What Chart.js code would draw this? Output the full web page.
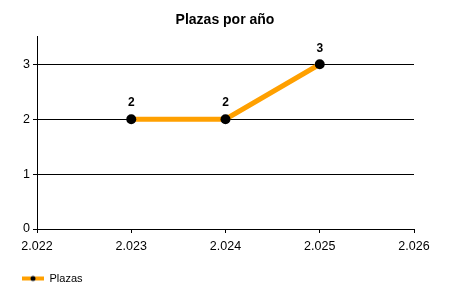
<!DOCTYPE html>
<html lang="es">
<head>
  <meta charset="UTF-8">
  <title>Plazas por año</title>
  <script src="https://cdn.jsdelivr.net/npm/chart.js"></script>
  <style>
    html, body { margin: 0; padding: 0; background: #fff; }
    #wrap { width: 450px; height: 300px; }
  </style>
</head>
<body>
<div id="wrap"><canvas id="plazasChart" width="450" height="300"></canvas></div>
<script>
  // datos
  const years = [2023, 2024, 2025];
  const plazas = [2, 2, 3];
  const xTicks = [2022, 2023, 2024, 2025, 2026];
  const yTicks = [0, 1, 2, 3];

  const fontFamily = '"Liberation Sans", Arial, sans-serif';
  const orange = '#FFA000';

  // icono de la leyenda: linea naranja con punto negro
  const legendIcon = document.createElement('canvas');
  legendIcon.width = 22;
  legendIcon.height = 8;
  (function () {
    const c = legendIcon.getContext('2d');
    c.fillStyle = orange;
    c.fillRect(0, 2, 22, 4);
    c.fillStyle = '#000';
    c.beginPath();
    c.arc(11, 4, 2.5, 0, Math.PI * 2);
    c.fill();
  })();

  // etiquetas encima de cada punto
  const pointLabels = {
    id: 'pointLabels',
    afterDatasetsDraw(chart) {
      const ctx = chart.ctx;
      const meta = chart.getDatasetMeta(0);
      ctx.save();
      ctx.font = 'bold 12px ' + fontFamily;
      ctx.fillStyle = '#000';
      ctx.textAlign = 'center';
      ctx.textBaseline = 'bottom';
      meta.data.forEach((pt, i) => {
        ctx.fillText(String(plazas[i]), pt.x, pt.y - 10);
      });
      ctx.restore();
    }
  };

  const fmt = v => (v / 1000).toFixed(3);

  new Chart(document.getElementById('plazasChart'), {
    type: 'line',
    data: {
      datasets: [{
        label: 'Plazas',
        data: years.map((y, i) => ({ x: y, y: plazas[i] })),
        borderColor: orange,
        borderWidth: 5,
        pointRadius: 5,
        pointBackgroundColor: '#000',
        pointBorderColor: '#000',
        pointBorderWidth: 0,
        tension: 0
      }]
    },
    options: {
      responsive: false,
      animation: false,
      layout: { padding: { left: 12, right: 12, top: 0, bottom: 6 } },
      plugins: {
        title: {
          display: true,
          text: 'Plazas por año',
          color: '#000',
          font: { family: fontFamily, size: 14, weight: 'bold' },
          padding: { top: 12, bottom: 8 }
        },
        legend: {
          position: 'bottom',
          align: 'start',
          labels: {
            color: '#000',
            font: { family: fontFamily, size: 11 },
            usePointStyle: true,
            pointStyleWidth: 22,
            generateLabels(chart) {
              return [{
                text: 'Plazas',
                pointStyle: legendIcon,
                fontColor: '#000',
                datasetIndex: 0,
                lineWidth: 0
              }];
            }
          }
        },
        tooltip: { enabled: false }
      },
      scales: {
        x: {
          type: 'linear',
          min: xTicks[0],
          max: xTicks[xTicks.length - 1],
          afterBuildTicks: s => { s.ticks = xTicks.map(v => ({ value: v })); },
          afterFit: s => { s.height = 34; s.paddingRight = 36; },
          ticks: {
            color: '#000',
            font: { family: fontFamily, size: 12.5 },
            padding: 6,
            maxRotation: 0,
            callback: v => fmt(v)
          },
          grid: { drawOnChartArea: false, drawTicks: true, tickLength: 4, color: '#000' },
          border: { display: true, color: '#000', width: 1 }
        },
        y: {
          min: 0,
          max: 3.5,
          afterBuildTicks: s => { s.ticks = yTicks.map(v => ({ value: v })); },
          afterFit: s => { s.width = 25; },
          ticks: {
            color: '#000',
            font: { family: fontFamily, size: 12.5 },
            padding: 3
          },
          grid: { color: '#000', lineWidth: 1, drawTicks: true, tickLength: 4 },
          border: { display: true, color: '#000', width: 1 }
        }
      }
    },
    plugins: [pointLabels]
  });
</script>
</body>
</html>
